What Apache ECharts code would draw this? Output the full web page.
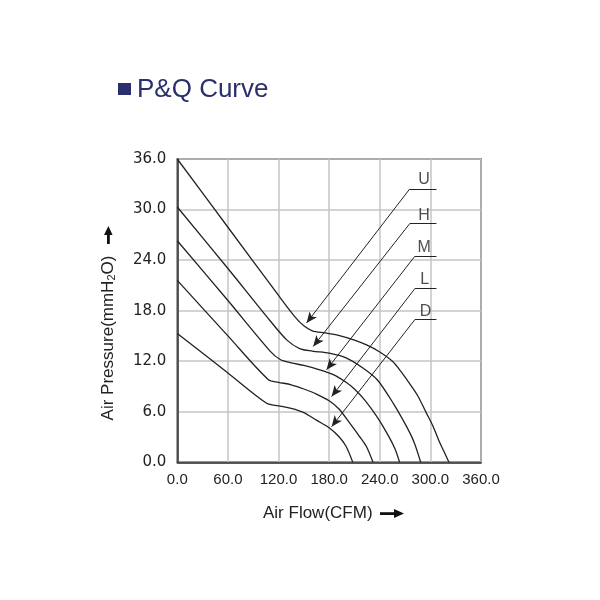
<!DOCTYPE html>
<html>
<head>
<meta charset="utf-8">
<script src="https://cdn.jsdelivr.net/npm/echarts@6/dist/echarts.min.js"></script>
<style>
  html, body { margin: 0; padding: 0; background: #fff; }
  #pq { width: 600px; height: 600px; }
</style>
</head>
<body>
<div id="pq"></div>
<script>
// ticks
var flowTicks = [0, 60, 120, 180, 240, 300, 360];
var pressTicks = [0, 6, 12, 18, 24, 30, 36];

// curves: [CFM, mmH2O]
var curveU = [[0, 36], [60, 27.9], [120, 19.8], [140, 17.2], [150, 16.2], [160, 15.6], [175, 15.35], [190, 15.1],
  [210, 14.5], [225, 13.9], [240, 13.1], [255, 12.0], [265, 10.8], [275, 9.4], [285, 7.9], [295, 5.9],
  [303, 4.3], [310, 2.6], [316, 1.3], [322, 0]];
var curveH = [[0, 30.3], [60, 23.0], [110, 16.8], [130, 14.5], [145, 13.5], [160, 13.2], [180, 12.95], [200, 12.4],
  [220, 11.2], [237, 9.8], [256, 7.0], [272, 4.2], [281, 2.3], [288.5, 0]];
var curveM = [[0, 26.3], [60, 19.2], [110, 13.2], [122, 12.2], [135, 11.8], [150, 11.5], [165, 11.1], [185, 10.4],
  [200, 9.5], [210, 8.7], [222, 7.4], [236, 5.5], [250, 3.2], [258, 1.6], [263.5, 0]];
var curveL = [[0, 21.6], [60, 15.0], [108, 9.8], [120, 9.5], [135, 9.2], [150, 8.7], [165, 8.1], [180, 7.3],
  [192, 6.3], [204, 4.7], [215, 3.2], [224, 1.9], [232, 0]];
var curveD = [[0, 15.3], [60, 10.6], [106, 7.0], [120, 6.7], [135, 6.4], [150, 5.9], [165, 5.0], [180, 4.1],
  [192, 3.0], [200, 1.9], [208, 0]];

// callouts: name, label pos, leader start/end, arrow tip
var tagNames = ['U', 'H', 'M', 'L', 'D'];
var tagPos = [[292.5, 33.5], [292.5, 29.3], [292.5, 25.45], [293.3, 21.7], [294.2, 17.9]];
var leaderLeft = [[275.6, 32.46], [275.6, 28.34], [281.5, 24.45], [281.5, 20.6], [281.5, 16.92]];
var leaderRight = [307.2, 307.2, 307.2, 307.2, 307.2];
var arrowTip = [[153.2, 16.53], [161.1, 13.75], [176.9, 10.98], [182.9, 7.8], [182.9, 4.23]];

var curves = [curveU, curveH, curveM, curveL, curveD];

var chart = echarts.init(document.getElementById('pq'));

var series = curves.map(function (c, i) {
  var y = leaderLeft[i][1];
  return {
    name: tagNames[i],
    type: 'line',
    data: c,
    smooth: 0.3,
    showSymbol: false,
    lineStyle: { color: '#222', width: 1.3 },
    markLine: {
      silent: true,
      symbol: ['none', 'arrow'],
      symbolSize: [7, 11],
      label: { show: false },
      lineStyle: { color: '#222', width: 1, type: 'solid' },
      data: [
        [{ coord: [leaderRight[i], y], symbol: 'none' }, { coord: leaderLeft[i], symbol: 'none' }],
        [{ coord: leaderLeft[i], symbol: 'none' }, { coord: arrowTip[i], symbol: 'arrow' }]
      ]
    }
  };
});

series.push({
  name: 'tags',
  type: 'scatter',
  symbolSize: 1,
  itemStyle: { color: 'rgba(0,0,0,0)' },
  silent: true,
  data: tagPos.map(function (p, i) { return [p[0], p[1], tagNames[i]]; }),
  label: {
    show: true,
    position: 'inside',
    formatter: function (p) { return p.data[2]; },
    color: '#222',
    fontSize: 16,
    fontFamily: 'Liberation Sans'
  }
});

chart.setOption({
  animation: false,
  textStyle: { fontFamily: 'Liberation Sans' },
  grid: {
    left: 177.3, right: 119, top: 159, bottom: 137.7,
    show: true, borderColor: '#333', borderWidth: 1.5
  },
  xAxis: {
    type: 'value',
    min: flowTicks[0], max: flowTicks[flowTicks.length - 1], interval: 60,
    axisLine: { show: true, lineStyle: { color: '#333', width: 1.5 } },
    axisTick: { show: false },
    axisLabel: {
      color: '#222', fontSize: 15, margin: 10,
      formatter: function (v) { return v.toFixed(1); }
    },
    splitLine: { show: true, lineStyle: { color: '#c4c4c4', width: 1.5 } }
  },
  yAxis: {
    type: 'value',
    min: pressTicks[0], max: pressTicks[pressTicks.length - 1], interval: 6,
    axisLine: { show: true, lineStyle: { color: '#333', width: 1.5 } },
    axisTick: { show: false },
    axisLabel: {
      color: '#222', fontSize: 15, fontFamily: 'DejaVu Sans', margin: 11,
      formatter: function (v) { return v.toFixed(1); }
    },
    splitLine: { show: true, lineStyle: { color: '#c4c4c4', width: 1.5 } }
  },
  graphic: [
    { type: 'rect', shape: { x: 118, y: 83, width: 13, height: 12 }, style: { fill: '#2b2f6b' } },
    {
      type: 'text', x: 137, y: 90,
      style: { text: 'P&Q Curve', fill: '#2b2f6b', fontSize: 26, fontFamily: 'Liberation Sans', textVerticalAlign: 'middle' }
    },
    {
      type: 'text', x: 263, y: 513,
      style: { text: 'Air Flow(CFM)', fill: '#222', fontSize: 17, fontFamily: 'Liberation Sans', textVerticalAlign: 'middle' }
    },
    { type: 'rect', shape: { x: 380, y: 512.2, width: 16, height: 2.8 }, style: { fill: '#111' } },
    { type: 'polygon', shape: { points: [[394, 509], [394, 518], [404, 513.6]] }, style: { fill: '#111' } },
    {
      type: 'text', x: 108, y: 338, rotation: Math.PI / 2,
      style: {
        text: 'Air Pressure(mmH{sub|2}O)', fill: '#222', fontSize: 17, fontFamily: 'Liberation Sans',
        textAlign: 'center', textVerticalAlign: 'middle',
        rich: { sub: { fontSize: 11, fontFamily: 'Liberation Sans', fill: '#222', padding: [8, 0, 0, 0] } }
      }
    },
    { type: 'rect', shape: { x: 107, y: 233, width: 2.8, height: 11 }, style: { fill: '#111' } },
    { type: 'polygon', shape: { points: [[104, 235], [112.6, 235], [108.4, 226]] }, style: { fill: '#111' } }
  ],
  series: series
});
</script>
</body>
</html>
